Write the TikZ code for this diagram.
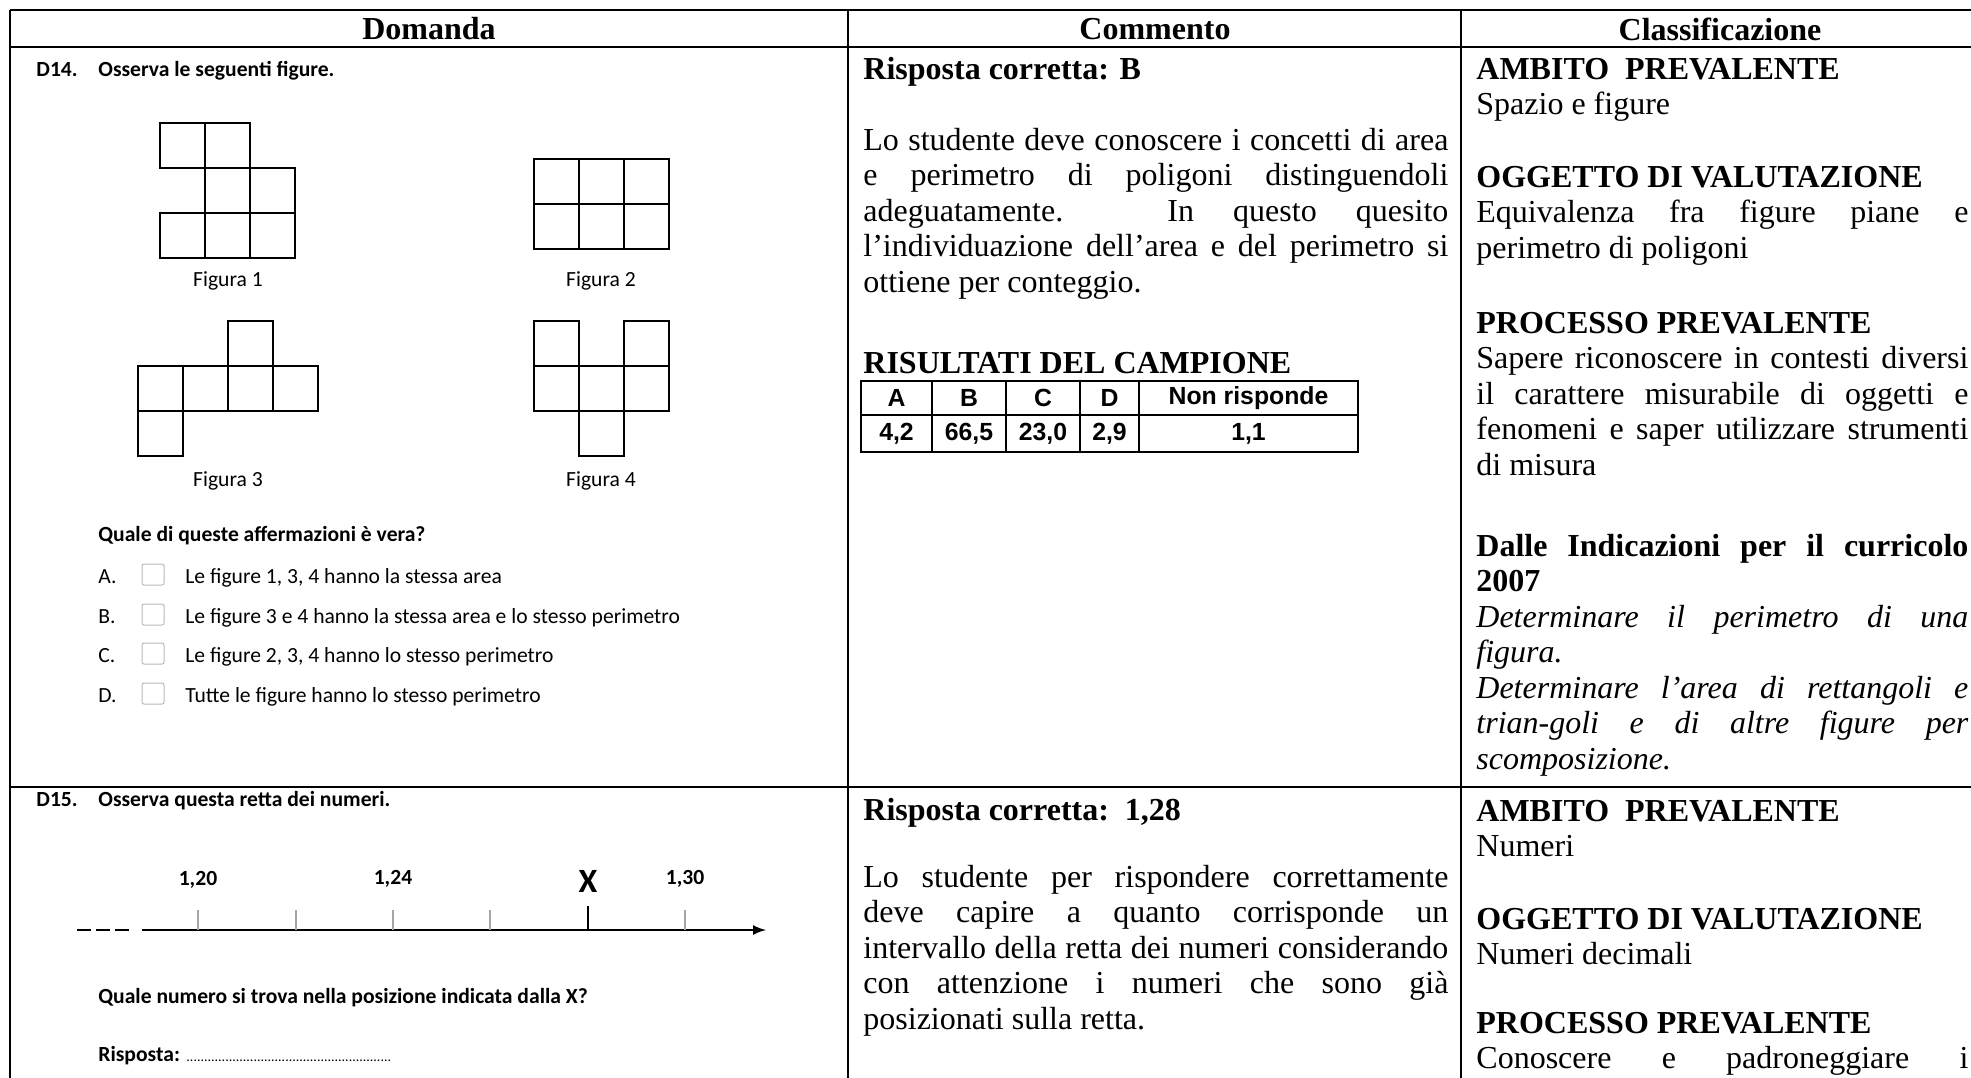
\documentclass[tikz,border=0pt]{standalone}
\usepackage{fontspec}
\setmainfont{Liberation Serif}
\newfontfamily\calibri{Carlito}
\newfontfamily\arial{Liberation Sans}
\usetikzlibrary{positioning}
\sloppy
\hyphenpenalty=10000
\exhyphenpenalty=10000
\tikzstyle{griglia}=[line width=1pt]
\tikzstyle{intest}=[inner sep=0pt,font=\bfseries\fontsize{16}{18}\selectfont]
\tikzstyle{domanda}=[inner sep=0pt,anchor=base west,font=\calibri\fontsize{10.8}{13}\selectfont]
\tikzstyle{blocco}=[inner sep=0pt,anchor=base west,text width=246pt,align=justify,font=\fontsize{16}{17.75}\selectfont]
\tikzstyle{commento}=[blocco,text width=292.5pt]
\tikzstyle{quadretto}=[line width=0.8pt]
\tikzstyle{casella}=[draw=gray!55,line width=0.5pt,rounded corners=1pt,minimum width=11pt,minimum height=10.5pt,inner sep=0pt]
\tikzstyle{cella}=[draw,line width=1pt,outer sep=0pt,inner sep=0pt,font=\arial\bfseries\fontsize{12.4}{14}\selectfont]
\tikzstyle{tacca}=[draw=gray!70,line width=0.6pt]

\begin{document}
\begin{tikzpicture}[x=0.5pt,y=-0.5pt]
\useasboundingbox (0,0) rectangle (1971,1077);

% griglia della tabella
\draw[griglia] (10,10) -- (1990,10);
\draw[griglia] (10,47) -- (1990,47);
\draw[griglia] (10,787) -- (1990,787);
\draw[griglia] (10,10) -- (10,1100);
\draw[griglia] (848,10) -- (848,1100);
\draw[griglia] (1461,10) -- (1461,1100);

\node[intest] (hDom) at (429,29) {Domanda};
\node[intest] (hCom) at (1155,29) {Commento};
\node[intest] (hCla) at (1720,29) {Classificazione};

% D14
\node[domanda] (d14) at (36,76) {\bfseries D14.};
\node[domanda] (oss14) at (98,76) {\bfseries Osserva le seguenti figure.};

\foreach \x/\y in {160/123,205/123,205/168,250/168,160/213,205/213,250/213}
  \draw[quadretto] (\x,\y) rectangle +(45,45);
\foreach \x/\y in {534/159,579/159,624/159,534/204,579/204,624/204}
  \draw[quadretto] (\x,\y) rectangle +(45,45);
\foreach \x/\y in {228/321,138/366,183/366,228/366,273/366,138/411}
  \draw[quadretto] (\x,\y) rectangle +(45,45);
\foreach \x/\y in {534/321,624/321,534/366,579/366,624/366,579/411}
  \draw[quadretto] (\x,\y) rectangle +(45,45);

\node[domanda,anchor=base] (fig1) at (228,286) {Figura 1};
\node[domanda,anchor=base] (fig2) at (601,286) {Figura 2};
\node[domanda,anchor=base] (fig3) at (228,486) {Figura 3};
\node[domanda,anchor=base] (fig4) at (601,486) {Figura 4};

\node[domanda] (q14) at (98,541) {\bfseries Quale di queste affermazioni è vera?};
\foreach \l/\t/\y [count=\i] in {A./{Le figure 1, 3, 4 hanno la stessa area}/583,
    B./{Le figure 3 e 4 hanno la stessa area e lo stesso perimetro}/623,
    C./{Le figure 2, 3, 4 hanno lo stesso perimetro}/662,
    D./{Tutte le figure hanno lo stesso perimetro}/702}{
  \node[domanda] (lett\i) at (98,\y) {\l};
  \node[casella] (box\i) at (153,\y-8.5) {};
  \node[domanda] (opz\i) at (185,\y) {\t};
}

% D15
\node[domanda] (d15) at (36,806) {\bfseries D15.};
\node[domanda] (oss15) at (98,806) {\bfseries Osserva questa retta dei numeri.};

\coordinate (inizio) at (142,930);
\coordinate (fine) at (766,930);
\draw[line width=1pt,dash pattern=on 7pt off 2.5pt] (77,930) -- (130,930);
\draw[line width=1.2pt,-latex] (inizio) -- (fine);
\foreach \x in {198,296,393,490,685}
  \draw[tacca] (\x,910) -- (\x,930);
\draw[line width=1pt] (588,906) -- (588,930);

\node[domanda,anchor=base] (n120) at (198,885) {\bfseries 1,20};
\node[domanda,anchor=base] (n124) at (393,884) {\bfseries 1,24};
\node[domanda,anchor=base,font=\calibri\bfseries\fontsize{17}{20}\selectfont] (ics) at (588,892) {X};
\node[domanda,anchor=base] (n130) at (685,884) {\bfseries 1,30};

\node[domanda] (q15) at (98,1003) {\bfseries Quale numero si trova nella posizione indicata dalla X?};
\node[domanda] (risp15) at (98,1061) {\bfseries Risposta: {\mdseries\fontsize{7}{8}\selectfont\foreach \k in {1,...,58}{.}}};

% Commento
\node[commento] (rc14) at (863,79) {\bfseries Risposta corretta: B};
\node[commento] (c14) at (863,150) {Lo studente deve conoscere i concetti di area\linebreak
  e perimetro di poligoni distinguendoli\linebreak
  adeguatamente. In questo quesito\linebreak
  l’individuazione dell’area e del perimetro si\linebreak
  ottiene per conteggio.};
\node[commento] (ris14) at (863,373) {\bfseries RISULTATI DEL CAMPIONE};

\node[cella,minimum width=35.5pt,minimum height=17pt,anchor=north west] (tA) at (861,381) {A};
\node[cella,minimum width=37pt,minimum height=17pt] (tB) [right=0pt of tA] {B};
\node[cella,minimum width=37pt,minimum height=17pt] (tC) [right=0pt of tB] {C};
\node[cella,minimum width=29.5pt,minimum height=17pt] (tD) [right=0pt of tC] {D};
\node[cella,minimum width=109.5pt,minimum height=17pt] (tN) [right=0pt of tD] {Non risponde};
\node[cella,minimum width=35.5pt,minimum height=18.5pt] (vA) [below=0pt of tA] {4,2};
\node[cella,minimum width=37pt,minimum height=18.5pt] (vB) [below=0pt of tB] {66,5};
\node[cella,minimum width=37pt,minimum height=18.5pt] (vC) [below=0pt of tC] {23,0};
\node[cella,minimum width=29.5pt,minimum height=18.5pt] (vD) [below=0pt of tD] {2,9};
\node[cella,minimum width=109.5pt,minimum height=18.5pt] (vN) [below=0pt of tN] {1,1};

\node[commento] (rc15) at (863,820) {\bfseries Risposta corretta:~~1,28};
\node[commento] (c15) at (863,887) {Lo studente per rispondere correttamente\linebreak
  deve capire a quanto corrisponde un\linebreak
  intervallo della retta dei numeri considerando\linebreak
  con attenzione i numeri che sono già\linebreak
  posizionati sulla retta.};

% Classificazione
\node[blocco] (amb14) at (1476,79) {\textbf{AMBITO~~PREVALENTE}\\Spazio e figure};
\node[blocco] (ogg14) at (1476,187) {\textbf{OGGETTO DI VALUTAZIONE}\\Equivalenza fra figure piane e\linebreak perimetro di poligoni};
\node[blocco] (pro14) at (1476,333) {\textbf{PROCESSO PREVALENTE}\\Sapere riconoscere in contesti diversi\linebreak
  il carattere misurabile di oggetti e\linebreak
  fenomeni e saper utilizzare strumenti\linebreak
  di misura};
\node[blocco] (dal14) at (1476,556) {\textbf{Dalle Indicazioni per il curricolo\linebreak 2007}\\
  \textit{Determinare il perimetro di una\linebreak figura.}\\
  \textit{Determinare l’area di rettangoli e\linebreak trian-goli e di altre figure per\linebreak scomposizione.}};

\node[blocco] (amb15) at (1476,821) {\textbf{AMBITO~~PREVALENTE}\\Numeri};
\node[blocco] (ogg15) at (1476,929) {\textbf{OGGETTO DI VALUTAZIONE}\\Numeri decimali};
\node[blocco] (pro15) at (1476,1033) {\textbf{PROCESSO PREVALENTE}\\Conoscere\hfill e\hfill padroneggiare\hfill i};

\end{tikzpicture}
\end{document}
